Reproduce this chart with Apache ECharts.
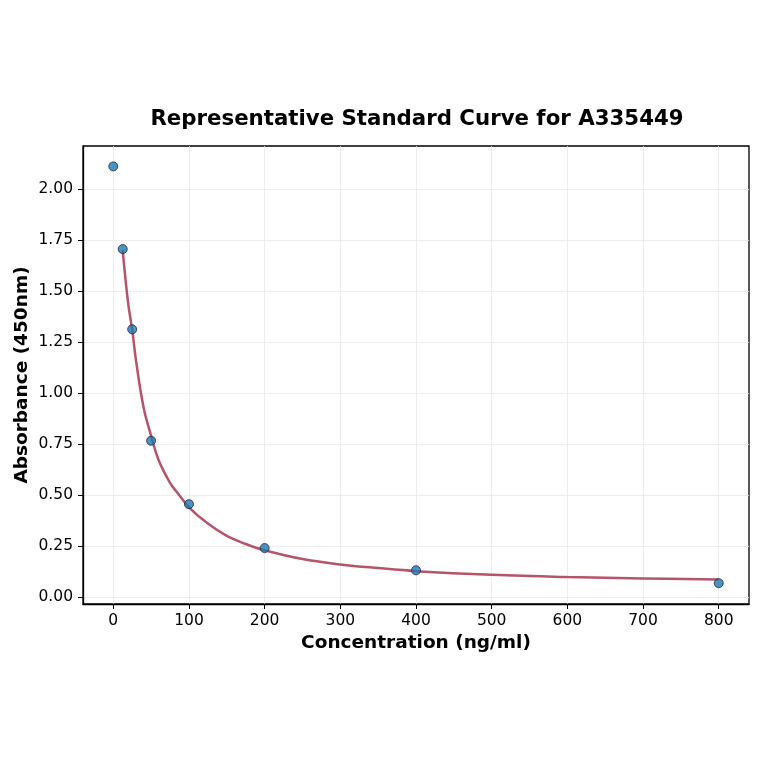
<!DOCTYPE html>
<html>
<head>
<meta charset="utf-8">
<script src="https://cdn.jsdelivr.net/npm/echarts@6/dist/echarts.min.js"></script>
<style>html,body{margin:0;padding:0;background:#fff;}#c{width:764px;height:764px;}</style>
</head>
<body>
<div id="c"></div>
<script>
// Measured standards
const concentrations = [0, 12.5, 25, 50, 100, 200, 400, 800];
const absorbances = [2.11, 1.705, 1.312, 0.766, 0.455, 0.24, 0.131, 0.068];
// Fitted curve
const curveX = [12.5, 15, 20, 25, 30, 40, 50, 60, 75, 85, 100, 125, 150, 175, 200, 250, 300, 350, 400, 500, 600, 700, 800];
const curveY = [1.70, 1.60, 1.43, 1.31, 1.16, 0.93, 0.79, 0.67, 0.56, 0.51, 0.44, 0.36, 0.30, 0.26, 0.229, 0.186, 0.16, 0.142, 0.127, 0.109, 0.098, 0.091, 0.086];
const xTicks = [0, 100, 200, 300, 400, 500, 600, 700, 800];
const yTicks = [0, 0.25, 0.5, 0.75, 1.0, 1.25, 1.5, 1.75, 2.0];

const FONT = 'DejaVu Sans';
const chart = echarts.init(document.getElementById('c'), null, {renderer: 'canvas'});
const scatterData = concentrations.map((x, i) => [x, absorbances[i]]);
const curveData = curveX.map((x, i) => [x, curveY[i]]);

chart.setOption({
  animation: false,
  backgroundColor: '#fff',
  title: {
    text: 'Representative Standard Curve for A335449',
    left: 412, top: 104, textAlign: 'center',
    textStyle: {fontFamily: FONT, fontSize: 21.3, fontWeight: 'bold', color: '#000'}
  },
  grid: {left: 83, right: 15, top: 146, bottom: 160, show: true, borderColor: '#000', borderWidth: 1.3, backgroundColor: 'transparent'},
  xAxis: {
    type: 'value', min: -40, max: 840,
    name: 'Concentration (ng/ml)', nameLocation: 'middle', nameGap: 30, nameMoveOverlap: false,
    nameTextStyle: {fontFamily: FONT, fontSize: 18.5, fontWeight: 'bold', color: '#000'},
    axisLine: {show: true, onZero: false, lineStyle: {color: '#000', width: 1.3}},
    axisTick: {show: true, length: 5, lineStyle: {color: '#000', width: 1}, customValues: xTicks},
    axisLabel: {fontFamily: FONT, fontSize: 15.5, color: '#000', margin: 9, customValues: xTicks},
    splitLine: {show: true, lineStyle: {color: '#e8e8e8', width: 0.8}}
  },
  yAxis: {
    type: 'value', min: -0.034, max: 2.21,
    name: 'Absorbance (450nm)', nameLocation: 'middle', nameGap: 51, nameMoveOverlap: false,
    nameTextStyle: {fontFamily: FONT, fontSize: 18.5, fontWeight: 'bold', color: '#000'},
    axisLine: {show: true, onZero: false, lineStyle: {color: '#000', width: 1.3}},
    axisTick: {show: true, length: 5, lineStyle: {color: '#000', width: 1}, customValues: yTicks},
    axisLabel: {fontFamily: FONT, fontSize: 15.5, color: '#000', margin: 10, customValues: yTicks,
      formatter: v => v.toFixed(2)},
    splitLine: {show: true, lineStyle: {color: '#e8e8e8', width: 0.8}}
  },
  series: [
    {
      type: 'line', data: curveData, smooth: 0.4, showSymbol: false, symbol: 'none',
      lineStyle: {color: '#b5546a', width: 2.5}, z: 2
    },
    {
      type: 'scatter', data: scatterData, symbolSize: 9,
      itemStyle: {color: '#1f77b4', borderColor: '#1a2a3a', borderWidth: 1}, z: 3
    }
  ]
});
</script>
</body>
</html>
